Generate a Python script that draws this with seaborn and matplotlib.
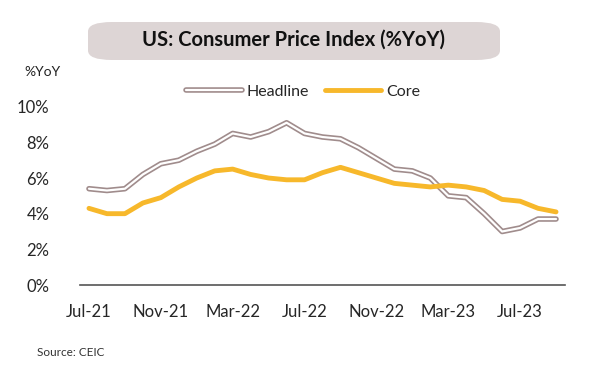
# US CPI chart: headline vs core, %YoY

import matplotlib.pyplot as plt
import matplotlib.patheffects as pe
from matplotlib.patches import FancyBboxPatch
import pandas as pd
import seaborn as sns

months = ["Jul-21", "Aug-21", "Sep-21", "Oct-21", "Nov-21", "Dec-21",
          "Jan-22", "Feb-22", "Mar-22", "Apr-22", "May-22", "Jun-22",
          "Jul-22", "Aug-22", "Sep-22", "Oct-22", "Nov-22", "Dec-22",
          "Jan-23", "Feb-23", "Mar-23", "Apr-23", "May-23", "Jun-23",
          "Jul-23", "Aug-23", "Sep-23"]
headline = [5.4, 5.3, 5.4, 6.2, 6.8, 7.0, 7.5, 7.9, 8.5, 8.3, 8.6, 9.1,
            8.5, 8.3, 8.2, 7.7, 7.1, 6.5, 6.4, 6.0, 5.0, 4.9, 4.0, 3.0,
            3.2, 3.7, 3.7]
core = [4.3, 4.0, 4.0, 4.6, 4.9, 5.5, 6.0, 6.4, 6.5, 6.2, 6.0, 5.9,
        5.9, 6.3, 6.6, 6.3, 6.0, 5.7, 5.6, 5.5, 5.6, 5.5, 5.3, 4.8,
        4.7, 4.3, 4.1]
tick_labels = ["Jul-21", "Nov-21", "Mar-22", "Jul-22", "Nov-22", "Mar-23", "Jul-23"]
y_ticks = [0, 2, 4, 6, 8, 10]

df = pd.DataFrame({"month": months, "Headline": headline, "Core": core})
df["t"] = range(len(df))

sns.set_style("white")
plt.rcParams["font.family"] = ["Lato", "DejaVu Sans"]

fig = plt.figure(figsize=(6, 3.77), dpi=100)
ax = fig.add_axes([80 / 600, 92 / 377, 485 / 600, 189 / 377])

sns.lineplot(data=df, x="t", y="Headline", ax=ax, color="white", lw=1.6,
             label="Headline",
             path_effects=[pe.Stroke(linewidth=4.0, foreground="#a08c8c"), pe.Normal()])
sns.lineplot(data=df, x="t", y="Core", ax=ax, color="#f7b82b", lw=3.5,
             label="Core", solid_capstyle="round")

ax.set_xlim(-0.5, 26.5)
ax.set_ylim(0, 10.6)
ax.set_xticks([months.index(m) for m in tick_labels])
ax.set_xticklabels(tick_labels, fontsize=12)
ax.set_yticks(y_ticks)
ax.set_yticklabels([f"{v}%" for v in y_ticks], fontsize=12)
ax.tick_params(axis="x", pad=14, length=0)
ax.tick_params(axis="y", pad=22, length=0)
ax.set_xlabel("")
ax.set_ylabel("")
for s in ["top", "right", "left"]:
    ax.spines[s].set_visible(False)
ax.spines["bottom"].set_color("#555555")
ax.spines["bottom"].set_linewidth(1.2)

leg = ax.legend(loc="upper center", bbox_to_anchor=(0.46, 1.135), ncol=2,
                frameon=False, fontsize=11.5, handlelength=3.5,
                handletextpad=0.3, columnspacing=1.0)

# title box
fig.patches.append(FancyBboxPatch((88 / 600, 317 / 377), 412 / 600, 38 / 377,
                                  boxstyle="round,pad=0,rounding_size=0.04",
                                  transform=fig.transFigure, facecolor="#ddd5d5",
                                  edgecolor="none", mutation_aspect=377 / 600))
fig.text(294 / 600, 337 / 377, "US: Consumer Price Index (%YoY)", ha="center",
         va="center", fontsize=14.5, fontweight="bold", color="#111111")
fig.text(42 / 600, 305 / 377, "%YoY", ha="center", va="center", fontsize=10,
         color="#222222")
fig.text(37 / 600, 25 / 377, "Source: CEIC", ha="left", va="center", fontsize=8.5,
         color="#333333")

fig.savefig("out.png", dpi=100, facecolor="white")
